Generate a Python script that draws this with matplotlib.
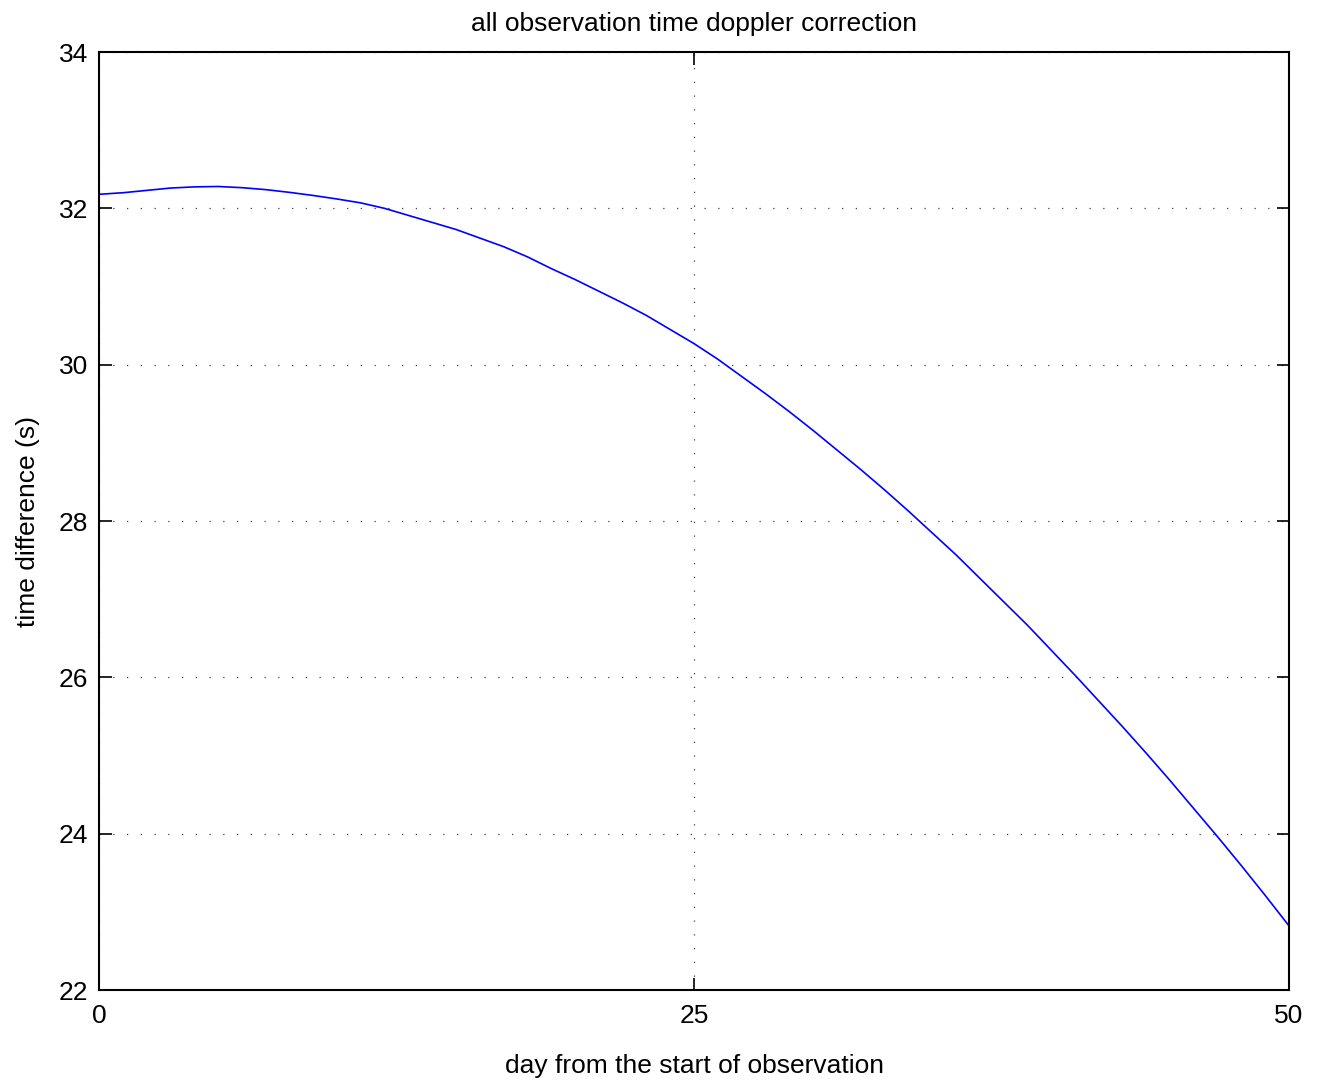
import matplotlib
matplotlib.use("Agg")
import matplotlib.pyplot as plt

# Time difference (s) sampled once per day since the start of observation
days = list(range(0, 51))
time_diff = [
    32.18, 32.20, 32.23, 32.26, 32.275, 32.28, 32.265, 32.24, 32.205, 32.165,
    32.12, 32.07, 32.00, 31.91, 31.82, 31.73, 31.62, 31.51, 31.38, 31.23,
    31.09, 30.94, 30.79, 30.63, 30.45, 30.27, 30.07, 29.85, 29.63, 29.40,
    29.16, 28.91, 28.66, 28.40, 28.13, 27.85, 27.57, 27.27, 26.97, 26.67,
    26.35, 26.03, 25.70, 25.37, 25.03, 24.68, 24.32, 23.96, 23.59, 23.21,
    22.82,
]
x_ticks = [0, 25, 50]
y_ticks = [22, 24, 26, 28, 30, 32, 34]

plt.rcParams["font.family"] = ["Liberation Sans", "DejaVu Sans"]

fig = plt.figure(figsize=(13.24, 10.82), dpi=100)
ax = fig.add_axes([0.0748, 0.0850, 0.8988, 0.8669])

ax.plot(days, time_diff, color=(0, 0, 1), linewidth=1.2)

ax.set_xlim(0, 50)
ax.set_ylim(22, 34)
ax.set_xticks(x_ticks)
ax.set_yticks(y_ticks)
ax.tick_params(direction="in", length=9, width=1.2, labelsize=19,
               top=True, right=True, pad=8)
ax.tick_params(axis="x", pad=10)

ax.grid(True, color="black", linestyle=(0, (1, 10)), linewidth=0.9, alpha=0.75)
for s in ax.spines.values():
    s.set_linewidth(1.5)

ax.set_title("all observation time doppler correction", fontsize=19, pad=15)
ax.set_xlabel("day from the start of observation", fontsize=19, labelpad=19)
ax.set_ylabel("time difference (s)", fontsize=19, labelpad=13)

fig.savefig("out.png", dpi=100)
